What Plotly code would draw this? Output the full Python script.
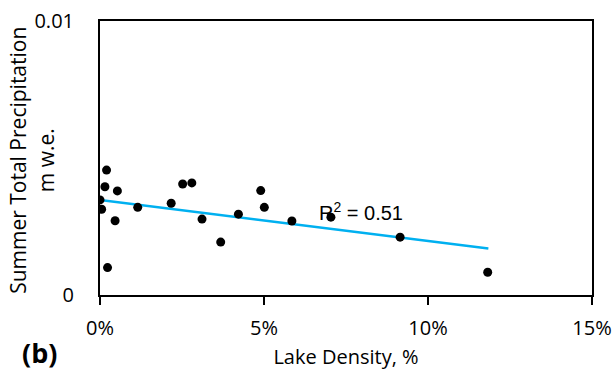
import numpy as np
import plotly.graph_objects as go

# Lake density (fraction) and summer total precipitation (m w.e.)
lake_density = [0.0000, 0.0005, 0.0020, 0.0015, 0.0053, 0.0046, 0.0023, 0.0115, 0.0217,
                0.0252, 0.0280, 0.0311, 0.0368, 0.0422, 0.0490, 0.0501, 0.0585, 0.0704,
                0.0915, 0.1182]
precip = [0.00347, 0.00313, 0.00456, 0.00395, 0.00380, 0.00271, 0.00100, 0.00320, 0.00335,
          0.00405, 0.00409, 0.00277, 0.00193, 0.00295, 0.00381, 0.00320, 0.00270, 0.00284,
          0.00211, 0.00083]

# Trend line (start/end)
trend_x = [0.0, 0.1184]
trend_y = [0.00347, 0.00170]

x_ticks = [0, 0.05, 0.10, 0.15]
x_tick_text = ["0%", "5%", "10%", "15%"]
y_ticks = [0, 0.01]
y_tick_text = ["0", "0.01"]

font_family = "Open Sans"

fig = go.Figure()
fig.add_trace(go.Scatter(x=trend_x, y=trend_y, mode="lines",
                         line=dict(color="#00B0F0", width=2.5), hoverinfo="skip"))
fig.add_trace(go.Scatter(x=lake_density, y=precip, mode="markers",
                         marker=dict(color="black", size=9)))

fig.add_annotation(x=0.0795, y=0.00305, xref="x", yref="y", text="R<sup>2</sup> = 0.51",
                   showarrow=False, font=dict(family="Liberation Sans", size=20, color="black"))
fig.add_annotation(x=-0.163, y=-0.21, xref="paper", yref="paper", text="<b>(b)</b>",
                   showarrow=False, font=dict(family=font_family, size=27, color="black"),
                   xanchor="left", yanchor="middle")
fig.add_annotation(x=-0.138, y=0.49, xref="paper", yref="paper",
                   text="Summer Total Precipitation<br>m w.e.", textangle=-90,
                   showarrow=False, font=dict(family=font_family, size=21, color="black"),
                   xanchor="center", yanchor="middle")

fig.update_layout(
    width=616, height=371,
    margin=dict(l=100, r=24, t=21, b=76),
    plot_bgcolor="white", paper_bgcolor="white",
    showlegend=False,
    font=dict(family=font_family, size=20, color="black"),
    xaxis=dict(range=[0, 0.15], tickvals=x_ticks, ticktext=x_tick_text,
               showline=True, linecolor="black", linewidth=2, mirror=True,
               ticks="outside", ticklen=8, tickcolor="black", tickwidth=2,
               ticklabelstandoff=6,
               showgrid=False, zeroline=False, automargin=False,
               title=dict(text="Lake Density, %", standoff=10, font=dict(size=20)),
               tickfont=dict(size=20)),
    yaxis=dict(range=[0, 0.01], tickvals=y_ticks, ticktext=y_tick_text,
               showline=True, linecolor="black", linewidth=2, mirror=True,
               ticks="outside", ticklen=20, tickcolor="rgba(0,0,0,0)",
               showgrid=False, zeroline=False, automargin=False,
               tickfont=dict(size=20)),
)

fig.write_html("out.html")
